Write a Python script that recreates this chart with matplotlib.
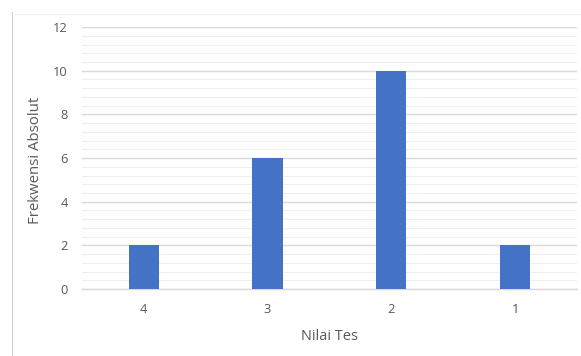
import matplotlib
matplotlib.use("Agg")
import matplotlib.pyplot as plt
from matplotlib.ticker import MultipleLocator
from matplotlib.lines import Line2D

categories = ["4", "3", "2", "1"]
values = [2, 6, 10, 2]
y_ticks = [0, 2, 4, 6, 8, 10, 12]

plt.rcParams['font.family'] = ['Open Sans', 'DejaVu Sans']

fig = plt.figure(figsize=(5.81, 3.56), dpi=100)
ax = fig.add_axes([0.141, 0.188, 0.852, 0.736])

x = list(range(len(categories)))
ax.bar(x, values, width=0.245, color="#4472C4", zorder=3)

ax.set_xlim(-0.5, len(categories) - 0.5)
ax.set_ylim(0, 12)
ax.set_yticks(y_ticks)
ax.yaxis.set_minor_locator(MultipleLocator(0.4))
ax.set_xticks(x)
ax.set_xticklabels(categories)

ax.grid(axis="y", which="major", color="#D9D9D9", linewidth=1.0, zorder=0)
ax.grid(axis="y", which="minor", color="#EEEEEE", linewidth=0.8, zorder=0)
ax.set_axisbelow(True)

for s in ["top", "right", "left"]:
    ax.spines[s].set_visible(False)
ax.spines["bottom"].set_color("#D9D9D9")
ax.spines["bottom"].set_linewidth(1.0)

ax.tick_params(axis="both", which="both", length=0, labelsize=9.3, labelcolor="#595959")
ax.tick_params(axis="y", pad=10)
ax.tick_params(axis="x", pad=10)

ax.set_ylabel("Frekwensi Absolut", fontsize=10.8, color="#595959")
ax.set_xlabel("Nilai Tes", fontsize=10.5, color="#595959")
ax.yaxis.set_label_coords(-0.078, 0.49)
ax.xaxis.set_label_coords(0.5, -0.153)

# chart-area frame (left and top edges)
fig.add_artist(Line2D([12/581, 12/581], [0, 1 - 12/356], transform=fig.transFigure, color="#D0D0D0", linewidth=0.8))
fig.add_artist(Line2D([12/581, 1], [1 - 14/356, 1 - 14/356], transform=fig.transFigure, color="#F0F0F0", linewidth=0.8))

fig.savefig("out.png", dpi=100)
